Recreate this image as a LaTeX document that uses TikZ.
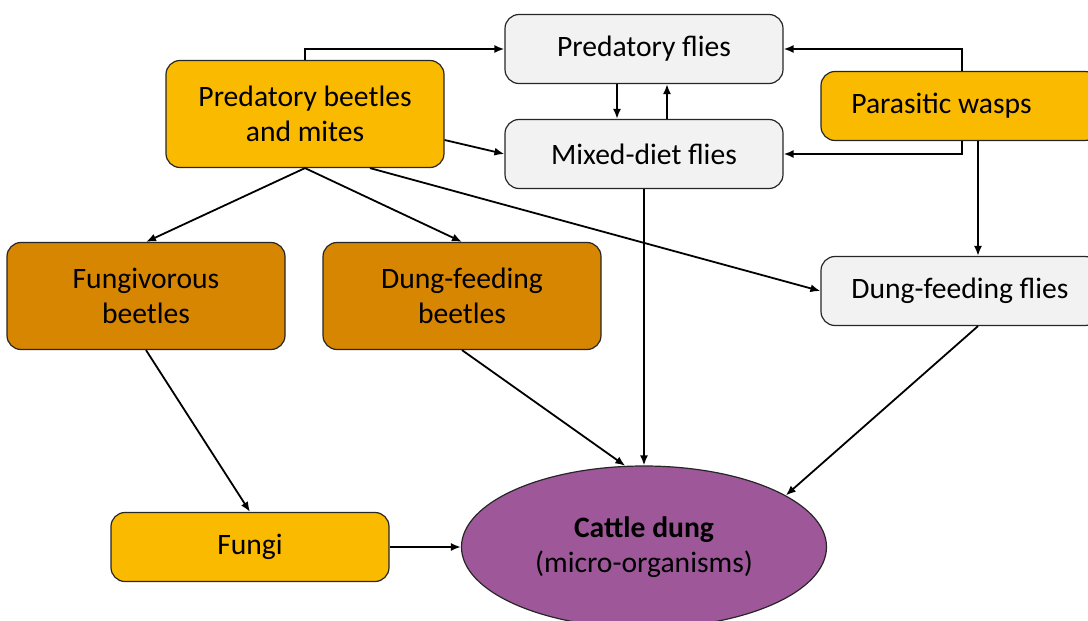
\documentclass[tikz,border=0pt]{standalone}
\usepackage{fontspec}
\setmainfont{Carlito}
\usetikzlibrary{arrows.meta, positioning, shapes.geometric}

\definecolor{gold}{RGB}{250,186,0}
\definecolor{amber}{RGB}{214,134,0}
\definecolor{flygray}{RGB}{242,242,242}
\definecolor{plum}{RGB}{158,87,153}

\begin{document}
\begin{tikzpicture}[x=1pt, y=-1pt, on grid,
        font=\fontsize{29.6}{35}\selectfont, >={Latex[length=10pt,width=8pt]},
        box/.style={draw=black!85, line width=1.2pt, rounded corners=14pt,
            minimum width=278pt, minimum height=69pt, align=center},
        gold box/.style={box, fill=gold},
        amber box/.style={box, fill=amber, minimum height=107pt},
        fly box/.style={box, fill=flygray},
        link/.style={->, line width=1.8pt}]
        \useasboundingbox (0,0) rectangle (1088,621);
        \clip (0,0) rectangle (1088,621);
        \node[fly box] (pfly) at (644,49) {Predatory flies};
        \node[fly box] (mfly) [below=105pt of pfly] {Mixed-diet flies};
        \node[gold box, minimum height=107pt] (pbeet) at (305,114) {Predatory beetles\\and mites};
        \node[gold box] (wasp) at (960,106) {Parasitic wasps\hspace*{37pt}};
        \node[fly box] (dfly) [below=185pt of wasp] {Dung-feeding flies};
        \node[amber box] (fbeet) at (146,296) {Fungivorous\\beetles};
        \node[amber box] (dbeet) [right=316pt of fbeet] {Dung-feeding\\beetles};
        \node[gold box] (fungi) at (250,547) {Fungi};
        \node[ellipse, draw=black!85, line width=1.2pt, fill=plum, align=center,
            minimum width=365pt, minimum height=162pt] (dung) [right=394pt of fungi]
            {\textbf{Cattle dung}\\(micro-organisms)};
        \draw[link] (pbeet.north) |- (pfly.west);
        \draw[link] ([xshift=2pt]wasp.north) |- (pfly.east);
        \draw[link] ([xshift=2pt]wasp.south) |- (mfly.east);
        \path[link]
        ([yshift=-26pt]pbeet.east) edge (mfly.west)
        ([xshift=-27pt]pfly.south) edge ([xshift=-27pt]mfly.north)
        ([xshift=23pt]mfly.north) edge ([xshift=23pt]pfly.south)
        ([xshift=18pt]wasp.south) edge ([xshift=18pt]dfly.north)
        (pbeet.south) edge (fbeet.north)
            edge (dbeet.north)
        ([xshift=65pt]pbeet.south) edge (dfly.west)
        (mfly.south) edge (dung.north)
        (dbeet.south) edge (dung.103)
        ([xshift=18pt]dfly.south) edge (dung.20)
        (fbeet.south) edge (fungi.north)
        (fungi.east) edge (dung.west);
    \end{tikzpicture}
\end{document}
